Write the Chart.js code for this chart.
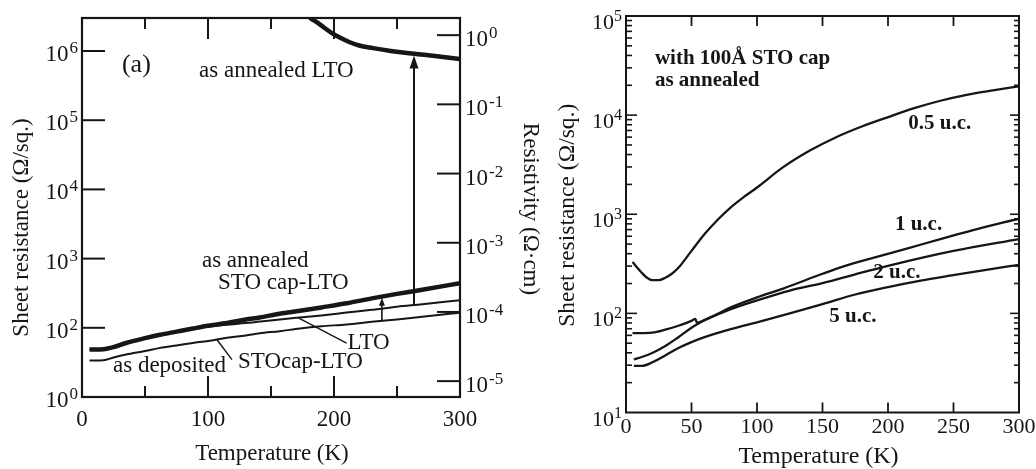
<!DOCTYPE html>
<html>
<head>
<meta charset="utf-8">
<title>Sheet resistance vs temperature</title>
<script src="https://cdn.jsdelivr.net/npm/chart.js@4.4.1/dist/chart.umd.min.js"></script>
<style>
  html, body { margin: 0; padding: 0; background: #ffffff; }
  #figure { position: relative; width: 1036px; height: 469px; overflow: hidden; background: #ffffff; }
  #figure canvas { position: absolute; top: 0; }
  #panelA { left: 0; }
  #panelB { left: 540px; }
</style>
</head>
<body>
<div id="figure">
  <canvas id="panelA" width="560" height="469"></canvas>
  <canvas id="panelB" width="496" height="469"></canvas>
</div>
<script>
// ---------- panel (a): LTO films, as deposited and as annealed ----------
const tempA = [6, 10, 17, 25, 35, 50, 62, 75, 88, 100, 115, 130, 141, 157, 173, 190, 210, 230, 250, 270, 300];
const rsAnnealedCapLTO = [48.6, 48.6, 49.0, 52.5, 60.3, 70.8, 79.4, 88.1, 97.7, 107, 117, 132, 141, 160, 176, 197, 226, 266, 309, 355, 442];
const rsDepositedLTO = [48.6, 48.6, 49.0, 52.5, 60.3, 70.8, 79.4, 88.1, 96.6, 104, 111, 117, 123, 132, 141, 151, 166, 182, 202, 219, 251];
const rsDepositedCapLTO = [33.7, 33.7, 33.9, 37.2, 41.1, 46.2, 51.3, 55.6, 60.3, 64.6, 71.6, 77.6, 83.2, 89.5, 97.7, 105, 112, 122, 132, 145, 165];
const tempAnnealedLTO = [179, 181, 186, 192, 199, 205, 212, 220, 231, 245, 258, 275, 300];
const rsAnnealedLTO = [3.4e6, 3.02e6, 2.63e6, 2.19e6, 1.78e6, 1.55e6, 1.35e6, 1.20e6, 1.10e6, 1.00e6, 9.33e5, 8.71e5, 7.67e5];

// resistivity = sheet resistance x film thickness
const filmThicknessCm = 5.9e-7;

// annealing arrows: temperature, start (as deposited) and tip (as annealed), in Ω/sq.
const arrowTemp = [263.5, 238];
const arrowFrom = [214, 126];
const arrowTo = [8.6e5, 272];

// axis ranges and ticks for panel (a)
const sheetMinA = 10, sheetMaxA = 3.0e6;
const tempTicksA = [0, 50, 100, 150, 200, 250, 300];
const tempLabelsA = ['0', '', '100', '', '200', '', '300'];
const sheetTicksA = [10, 1e2, 1e3, 1e4, 1e5, 1e6];
const sheetExpA = ['0', '2', '3', '4', '5', '6'];
const rhoTicksA = [1e-5, 1e-4, 1e-3, 1e-2, 1e-1, 1];
const rhoExpA = ['-5', '-4', '-3', '-2', '-1', '0'];

// ---------- panel (b): STO-capped films of different thickness ----------
const temp05 = [5, 8, 12, 16, 20, 25, 30, 35, 40, 50, 60, 70, 80, 90, 100, 120, 140, 160, 180, 200, 220, 240, 260, 280, 300];
const rs05 = [331, 295, 257, 229, 216, 216, 229, 251, 288, 427, 631, 881, 1175, 1496, 1862, 2985, 4365, 5957, 7674, 9550, 11749, 13964, 16032, 17783, 19498];
const temp1 = [5, 10, 20, 30, 40, 50, 53, 54, 60, 70, 80, 100, 120, 150, 165, 190, 215, 240, 265, 300];
const rs1 = [63.1, 63.1, 63.8, 68.4, 75.0, 84.1, 88.1, 80.4, 86.1, 98.9, 115, 145, 178, 251, 295, 367, 452, 562, 692, 902];
const temp2 = [6, 12, 20, 30, 40, 50, 55, 60, 80, 100, 125, 150, 175, 200, 250, 300];
const rs2 = [34.3, 36.3, 39.8, 46.8, 57.5, 71.6, 78.5, 85.1, 110, 135, 170, 202, 248, 302, 427, 562];
const temp5 = [6, 12, 20, 30, 40, 50, 60, 80, 100, 125, 150, 175, 200, 225, 250, 275, 300];
const rs5 = [29.5, 29.5, 32.0, 37.6, 44.7, 51.3, 57.5, 69.2, 81.3, 100, 124, 155, 184, 214, 243, 275, 309];

const sheetMinB = 10, sheetMaxB = 1e5;
const tempTicksB = [0, 50, 100, 150, 200, 250, 300];
const tempLabelsB = ['0', '50', '100', '150', '200', '250', '300'];
const sheetDecadesB = [10, 100, 1e3, 1e4, 1e5];
const sheetExpB = ['1', '2', '3', '4', '5'];

// ---------- drawing helpers ----------
const INK = '#161616';
const SERIF = '"Liberation Serif", "Times New Roman", Times, serif';

function xy(ts, vs) { return ts.map((t, i) => ({ x: t, y: vs[i] })); }

function lineStyle(width) {
  return { borderColor: INK, borderWidth: width, pointRadius: 0, fill: false,
           cubicInterpolationMode: 'monotone', borderJoinStyle: 'round' };
}

function setTicks(values, texts, isMajor) {
  return scale => {
    scale.ticks = values.map((v, i) => ({ value: v, major: isMajor(v, i), text: texts ? texts[i] : '' }));
  };
}

function drawPow(ctx, x, baseY, exp, L, side) {
  const mainFont = `${L.size}px ${SERIF}`;
  const supFont = `${L.sup}px ${SERIF}`;
  ctx.font = mainFont;
  const w1 = ctx.measureText('10').width;
  ctx.font = supFont;
  const w2 = ctx.measureText(exp).width;
  const x0 = side === 'left' ? x - L.gap - w2 - L.kern - w1 : x + L.gap;
  ctx.textAlign = 'left';
  ctx.textBaseline = 'alphabetic';
  ctx.font = mainFont;
  ctx.fillText('10', x0, baseY);
  ctx.font = supFont;
  ctx.fillText(exp, x0 + w1 + L.kern, baseY - L.raise);
}

// frame, inward tick marks, labels, titles, notes and arrows
function makeFrame(cfg) {
  return {
    id: 'frame',
    afterDatasetsDraw(chart) {
      const { ctx, chartArea: a, scales } = chart;
      const sx = scales.x, sy = scales.y;
      const seg = (x1, y1, x2, y2) => { ctx.beginPath(); ctx.moveTo(x1, y1); ctx.lineTo(x2, y2); ctx.stroke(); };
      ctx.save();
      ctx.strokeStyle = INK;
      ctx.fillStyle = INK;
      ctx.lineCap = 'butt';

      // leader lines from labels to curves
      ctx.lineWidth = cfg.leaderWidth || 1.4;
      for (const L of (cfg.leaders || [])) {
        seg(sx.getPixelForValue(L.x1), sy.getPixelForValue(L.y1), sx.getPixelForValue(L.x2), sy.getPixelForValue(L.y2));
      }

      // arrows
      for (const A of (cfg.arrows || [])) {
        const px = sx.getPixelForValue(A.x);
        const y0 = sy.getPixelForValue(A.from);
        const y1 = sy.getPixelForValue(A.to);
        ctx.lineWidth = A.width;
        seg(px, y0, px, y1 + A.head - 1);
        ctx.beginPath();
        ctx.moveTo(px, y1);
        ctx.lineTo(px - A.half, y1 + A.head);
        ctx.lineTo(px + A.half, y1 + A.head);
        ctx.closePath();
        ctx.fill();
      }

      // plot frame
      ctx.lineWidth = cfg.frameWidth;
      ctx.strokeRect(a.left, a.top, a.right - a.left, a.bottom - a.top);

      // tick marks and tick labels
      for (const ax of cfg.axes) {
        const s = scales[ax.scale];
        const horiz = s.isHorizontal();
        ctx.lineWidth = ax.width;
        for (const t of s.ticks) {
          const p = s.getPixelForValue(t.value);
          const lo = horiz ? a.left : a.top, hi = horiz ? a.right : a.bottom;
          const len = t.major ? ax.majorLen : ax.minorLen;
          if (len > 0 && p > lo + 1.5 && p < hi - 1.5) {
            if (ax.side === 'bottom') seg(p, a.bottom, p, a.bottom - len);
            if (ax.side === 'top') seg(p, a.top, p, a.top + len);
            if (ax.side === 'left') seg(a.left, p, a.left + len, p);
            if (ax.side === 'right') seg(a.right, p, a.right - len, p);
          }
          if (!ax.label || !t.text) continue;
          const L = ax.label;
          if (L.kind === 'num') {
            ctx.font = L.font;
            ctx.textAlign = 'center';
            ctx.textBaseline = 'alphabetic';
            ctx.fillText(t.text, p, a.bottom + L.offset);
          } else {
            const edge = ax.side === 'left' ? a.left : a.right;
            drawPow(ctx, edge, p + L.dy, t.text, L, ax.side);
          }
        }
      }

      // axis titles (positions relative to the plot area)
      for (const T of cfg.titles) {
        const cx = T.ref === 'left' ? a.left + T.dx : T.ref === 'right' ? a.right + T.dx : (a.left + a.right) / 2 + T.dx;
        const cy = T.vref === 'bottom' ? a.bottom + T.dy : (a.top + a.bottom) / 2 + T.dy;
        ctx.save();
        ctx.translate(cx, cy);
        ctx.rotate(T.rotation);
        ctx.font = `${T.size}px ${SERIF}`;
        ctx.textAlign = 'center';
        ctx.textBaseline = 'alphabetic';
        ctx.fillText(T.text, 0, 0.3 * T.size);
        ctx.restore();
      }

      // in-plot notes, anchored at data coordinates (left edge, baseline)
      for (const N of (cfg.notes || [])) {
        ctx.font = N.font;
        ctx.textAlign = 'left';
        ctx.textBaseline = 'alphabetic';
        ctx.fillText(N.text, sx.getPixelForValue(N.x), sy.getPixelForValue(N.y));
      }
      ctx.restore();
    }
  };
}

const hiddenAxis = { grid: { display: false }, border: { display: false }, ticks: { display: false } };
const common = {
  responsive: false, animation: false, events: [],
  plugins: { legend: { display: false }, tooltip: { enabled: false } }
};

// ---------- panel (a) ----------
const noteA = `23px ${SERIF}`;
new Chart(document.getElementById('panelA'), {
  type: 'line',
  data: {
    datasets: [
      { label: 'as annealed LTO', data: xy(tempAnnealedLTO, rsAnnealedLTO), ...lineStyle(4.5) },
      { label: 'as annealed STO cap-LTO', data: xy(tempA, rsAnnealedCapLTO), ...lineStyle(4.5) },
      { label: 'as deposited LTO', data: xy(tempA, rsDepositedLTO), ...lineStyle(2) },
      { label: 'as deposited STOcap-LTO', data: xy(tempA, rsDepositedCapLTO), ...lineStyle(2) }
    ]
  },
  options: {
    ...common,
    layout: { padding: { top: 18, left: 0, right: 0, bottom: 0 } },
    scales: {
      x: { type: 'linear', min: 0, max: 300, ...hiddenAxis,
           afterBuildTicks: setTicks(tempTicksA, tempLabelsA, v => v % 100 === 0),
           afterFit: s => { s.height = 72; } },
      y: { type: 'logarithmic', position: 'left', min: sheetMinA, max: sheetMaxA, ...hiddenAxis,
           afterBuildTicks: setTicks(sheetTicksA, sheetExpA, () => true),
           afterFit: s => { s.width = 82; } },
      y2: { type: 'logarithmic', position: 'right', min: sheetMinA * filmThicknessCm, max: sheetMaxA * filmThicknessCm, ...hiddenAxis,
            afterBuildTicks: setTicks(rhoTicksA, rhoExpA, () => true),
            afterFit: s => { s.width = 100; } }
    }
  },
  plugins: [makeFrame({
    frameWidth: 2.2,
    leaderWidth: 1.4,
    axes: [
      { scale: 'x', side: 'bottom', majorLen: 21, minorLen: 11, width: 2, label: { kind: 'num', font: `23px ${SERIF}`, offset: 29 } },
      { scale: 'x', side: 'top', majorLen: 21, minorLen: 11, width: 2 },
      { scale: 'y', side: 'left', majorLen: 23, minorLen: 0, width: 2, label: { kind: 'pow', size: 23, sup: 17, raise: 8, dy: 10, gap: 4, kern: 1 } },
      { scale: 'y2', side: 'right', majorLen: 23, minorLen: 0, width: 2, label: { kind: 'pow', size: 23, sup: 17, raise: 8, dy: 11, gap: 5, kern: 1 } }
    ],
    titles: [
      { text: 'Temperature (K)', ref: 'center', dx: 1, vref: 'bottom', dy: 56, size: 23, rotation: 0 },
      { text: 'Sheet resistance (Ω/sq.)', ref: 'left', dx: -61, vref: 'middle', dy: 20, size: 23, rotation: -Math.PI / 2 },
      { text: 'Resistivity (Ω·cm)', ref: 'right', dx: 71, vref: 'middle', dy: 1.5, size: 23, rotation: Math.PI / 2 }
    ],
    notes: [
      { text: '(a)', x: 31.7, y: 5.01e5, font: `26px ${SERIF}` },
      { text: 'as annealed LTO', x: 92.9, y: 4.2e5, font: noteA },
      { text: 'as annealed', x: 95.2, y: 759, font: noteA },
      { text: 'STO cap-LTO', x: 108, y: 360, font: noteA },
      { text: 'LTO', x: 210.7, y: 50.1, font: noteA },
      { text: 'as deposited', x: 24.6, y: 22.8, font: noteA },
      { text: 'STOcap-LTO', x: 123.8, y: 26.3, font: noteA }
    ],
    leaders: [
      { x1: 171.7, y1: 139, x2: 210, y2: 60.3 },
      { x1: 107, y1: 67.8, x2: 119, y2: 34.7 }
    ],
    arrows: arrowTemp.map((t, i) => ({
      x: t, from: arrowFrom[i], to: arrowTo[i],
      width: i === 0 ? 2 : 1.6, head: i === 0 ? 13 : 8, half: i === 0 ? 4.5 : 3
    }))
  })]
});

// ---------- panel (b) ----------
const sheetTicksB = [];
const sheetTextB = [];
sheetDecadesB.forEach((d, i) => {
  sheetTicksB.push(d); sheetTextB.push(sheetExpB[i]);
  if (i < sheetDecadesB.length - 1) {
    for (let k = 2; k <= 9; k++) { sheetTicksB.push(d * k); sheetTextB.push(''); }
  }
});
const noteB = `bold 21px ${SERIF}`;

new Chart(document.getElementById('panelB'), {
  type: 'line',
  data: {
    datasets: [
      { label: '0.5 u.c.', data: xy(temp05, rs05), ...lineStyle(2.3) },
      { label: '1 u.c.', data: xy(temp1, rs1), ...lineStyle(2.3) },
      { label: '2 u.c.', data: xy(temp2, rs2), ...lineStyle(2.3) },
      { label: '5 u.c.', data: xy(temp5, rs5), ...lineStyle(2.3) }
    ]
  },
  options: {
    ...common,
    layout: { padding: { top: 16, left: 0, right: 17, bottom: 0 } },
    scales: {
      x: { type: 'linear', min: 0, max: 300, ...hiddenAxis,
           afterBuildTicks: setTicks(tempTicksB, tempLabelsB, () => true),
           afterFit: s => { s.height = 56.5; } },
      y: { type: 'logarithmic', position: 'left', min: sheetMinB, max: sheetMaxB, ...hiddenAxis,
           afterBuildTicks: setTicks(sheetTicksB, sheetTextB, (v, i) => sheetTextB[i] !== ''),
           afterFit: s => { s.width = 86; } }
    }
  },
  plugins: [makeFrame({
    frameWidth: 2,
    axes: [
      { scale: 'x', side: 'bottom', majorLen: 10, minorLen: 10, width: 1.8, label: { kind: 'num', font: `22px ${SERIF}`, offset: 20 } },
      { scale: 'x', side: 'top', majorLen: 10, minorLen: 10, width: 1.8 },
      { scale: 'y', side: 'left', majorLen: 11, minorLen: 6, width: 1.6, label: { kind: 'pow', size: 22, sup: 16, raise: 8, dy: 13, gap: 4, kern: 0 } },
      { scale: 'y', side: 'right', majorLen: 9, minorLen: 5, width: 1.6 }
    ],
    titles: [
      { text: 'Temperature (K)', ref: 'center', dx: -4, vref: 'bottom', dy: 43.5, size: 24, rotation: 0 },
      { text: 'Sheet resistance (Ω/sq.)', ref: 'left', dx: -59, vref: 'middle', dy: 1, size: 23.5, rotation: -Math.PI / 2 }
    ],
    notes: [
      { text: 'with 100Å STO cap', x: 22.1, y: 32800, font: noteB },
      { text: 'as annealed', x: 22.1, y: 19700, font: noteB },
      { text: '0.5 u.c.', x: 215.5, y: 7200, font: noteB },
      { text: '1 u.c.', x: 205.3, y: 692, font: noteB },
      { text: '2 u.c.', x: 188.8, y: 225, font: noteB },
      { text: '5 u.c.', x: 155.2, y: 82.2, font: noteB }
    ]
  })]
});
</script>
</body>
</html>
